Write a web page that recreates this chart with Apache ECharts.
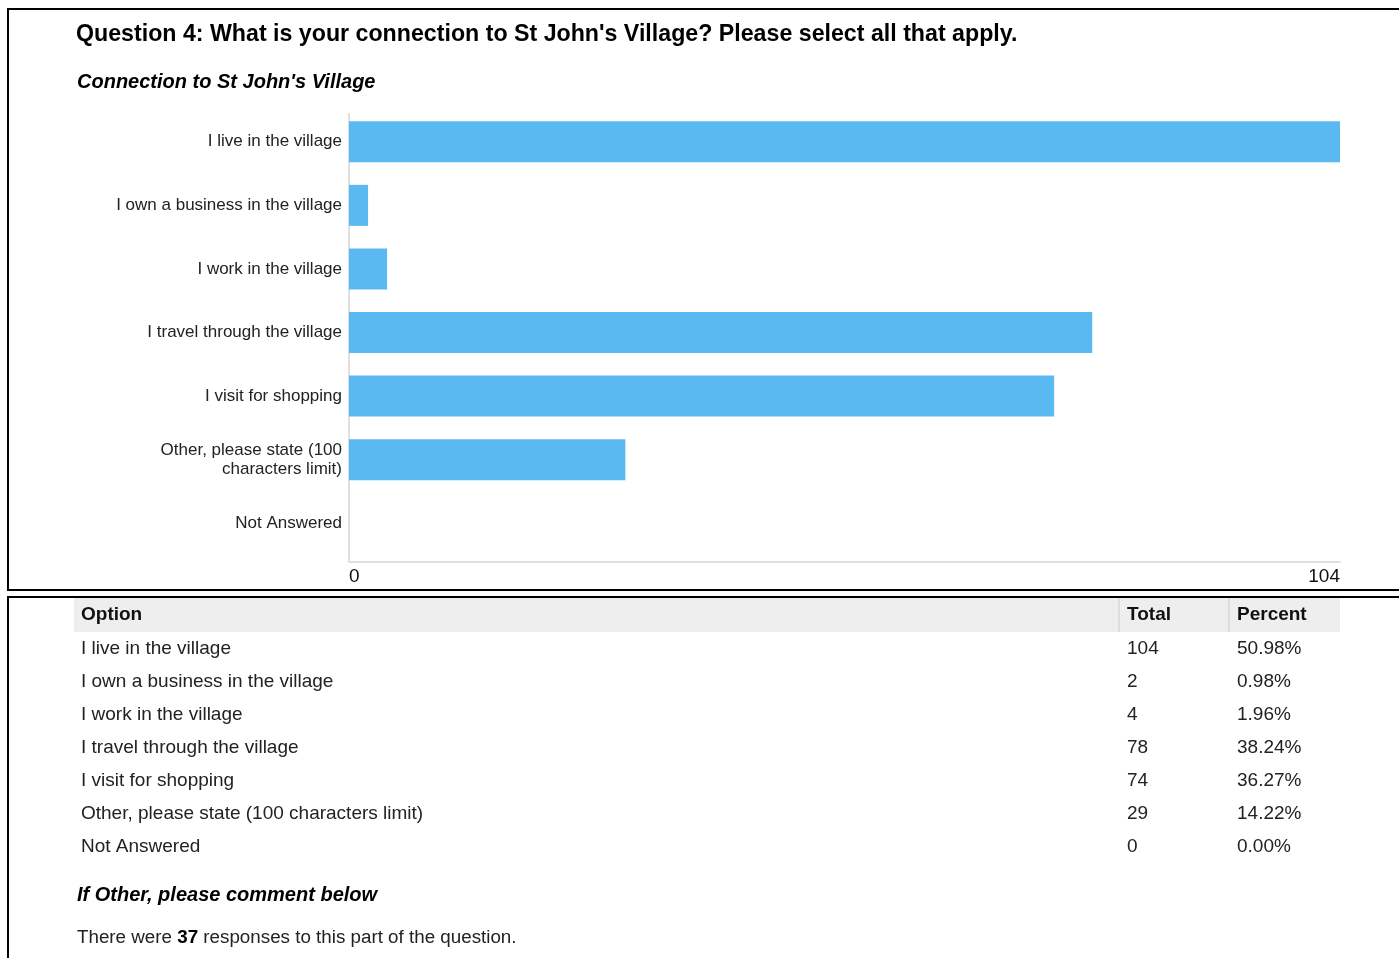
<!DOCTYPE html>
<html>
<head>
<meta charset="utf-8">
<script src="https://cdn.jsdelivr.net/npm/echarts@6/dist/echarts.min.js"></script>
<style>
html,body{margin:0;padding:0;background:#fff;}
#main{width:1399px;height:958px;}
</style>
</head>
<body>
<div id="main"></div>
<script>
const categories = [
  "I live in the village",
  "I own a business in the village",
  "I work in the village",
  "I travel through the village",
  "I visit for shopping",
  "Other, please state (100 characters limit)",
  "Not Answered"
];
const totals = [104, 2, 4, 78, 74, 29, 0];
const percents = ["50.98%", "0.98%", "1.96%", "38.24%", "36.27%", "14.22%", "0.00%"];
const xTicks = [0, 104];
const headers = ["Option", "Total", "Percent"];
const titleText = "Question 4: What is your connection to St John's Village? Please select all that apply.";
const subtitleText = "Connection to St John's Village";
const commentTitle = "If Other, please comment below";
const responseCount = 37;

const FONT = "'Liberation Sans', Arial, sans-serif";
const chart = echarts.init(document.getElementById('main'), null, {renderer: 'canvas'});

const graphics = [];
// frames
graphics.push({type:'rect', shape:{x:8, y:9, width:1420, height:581}, style:{fill:'none', stroke:'#000', lineWidth:2}, silent:true});
graphics.push({type:'rect', shape:{x:8, y:597, width:1420, height:400}, style:{fill:'none', stroke:'#000', lineWidth:2}, silent:true});
// vertical axis rule of the chart area
graphics.push({type:'line', shape:{x1:349, y1:113, x2:349, y2:562}, style:{stroke:'#e0e0e0', lineWidth:2}, silent:true, z:-1});
// table header background
graphics.push({type:'rect', shape:{x:74, y:598, width:1266, height:34}, style:{fill:'#eeeeee'}, silent:true});
graphics.push({type:'rect', shape:{x:1118, y:598, width:2, height:34}, style:{fill:'#dddddd'}, silent:true});
graphics.push({type:'rect', shape:{x:1228, y:598, width:2, height:34}, style:{fill:'#dddddd'}, silent:true});
const colX = [81, 1127, 1237];
headers.forEach((h, i) => {
  graphics.push({type:'text', x:colX[i], y:615, style:{text:h, font:'bold 19px ' + FONT, fill:'#111', textVerticalAlign:'middle'}, silent:true});
});
categories.forEach((c, i) => {
  const y = 649 + i * 33;
  graphics.push({type:'text', x:colX[0], y:y, style:{text:c, font:'19px ' + FONT, fill:'#222', textVerticalAlign:'middle'}, silent:true});
  graphics.push({type:'text', x:colX[1], y:y, style:{text:String(totals[i]), font:'19px ' + FONT, fill:'#222', textVerticalAlign:'middle'}, silent:true});
  graphics.push({type:'text', x:colX[2], y:y, style:{text:percents[i], font:'19px ' + FONT, fill:'#222', textVerticalAlign:'middle'}, silent:true});
});
graphics.push({type:'text', x:77, y:895, style:{text:commentTitle, font:'italic bold 20px ' + FONT, fill:'#000', textVerticalAlign:'middle'}, silent:true});
graphics.push({type:'text', x:77, y:938, style:{
  text:'{a|There were }{b|' + responseCount + '}{a| responses to this part of the question.}',
  textVerticalAlign:'middle',
  rich:{a:{font:'18.8px ' + FONT, fill:'#222'}, b:{font:'bold 18.8px ' + FONT, fill:'#000'}}
}, silent:true});

const option = {
  animation: false,
  backgroundColor: '#fff',
  title: [
    {text: titleText, left: 71, top: 18, textStyle:{fontFamily:FONT, fontSize:23.2, fontWeight:'bold', color:'#000'}},
    {text: subtitleText, left: 72, top: 67, textStyle:{fontFamily:FONT, fontSize:20, fontWeight:'bold', fontStyle:'italic', color:'#000'}}
  ],
  grid: {left: 349, top: 110, width: 991, height: 445, containLabel: false},
  xAxis: {
    type: 'value', min: xTicks[0], max: xTicks[1], interval: xTicks[1] - xTicks[0],
    offset: 7,
    axisLine: {show: true, lineStyle: {color: '#e0e0e0', width: 2}},
    axisTick: {show: false},
    splitLine: {show: false},
    axisLabel: {fontFamily: FONT, fontSize: 19, color: '#111', margin: 5, alignMinLabel: 'left', alignMaxLabel: 'right'}
  },
  yAxis: {
    type: 'category', data: categories, inverse: true,
    axisLine: {show: false},
    axisTick: {show: false},
    axisLabel: {fontFamily: FONT, fontSize: 17, color: '#222', margin: 7, lineHeight: 19,
      formatter: v => v.replace(' characters', '\ncharacters')}
  },
  series: [{
    type: 'bar', data: totals, barWidth: 41,
    itemStyle: {color: '#5bb9f1'},
    silent: true
  }],
  graphic: graphics
};
chart.setOption(option);
</script>
</body>
</html>
